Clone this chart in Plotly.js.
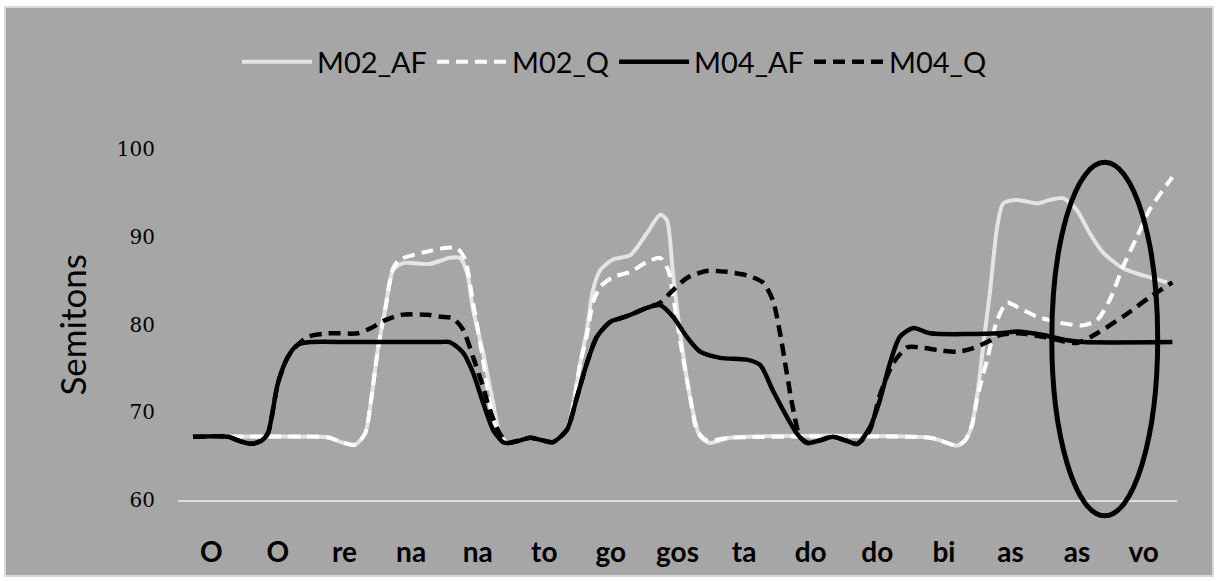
<!DOCTYPE html>
<html>
<head>
<meta charset="utf-8">
<script src="https://cdn.plot.ly/plotly-3.0.1.min.js"></script>
<style>
  html, body { margin: 0; padding: 0; background: #ffffff; }
  #frame { position: absolute; left: 4px; top: 6px; width: 1210px; height: 571px;
           border: 2px solid #d9d9d9; box-sizing: border-box; background: #a6a6a6; }
  #chart { width: 1206px; height: 567px; }
</style>
</head>
<body>
<div id="frame"><div id="chart"></div></div>
<script>
// Syllable categories along the x axis (one per position 0..14)
const categories = ['O','O','re','na','na','to','go','gos','ta','do','do','bi','as','as','vo'];
const yTicks = [60, 70, 80, 90, 100];

// Series names
const seriesNames = ['M02_AF', 'M02_Q', 'M04_AF', 'M04_Q'];

// M02_AF (x in category positions, y in semitones)
const m02afX = [-0.275, 1.63, 1.78, 1.95, 2.16, 2.31, 2.40, 2.50, 2.61, 2.73, 2.88, 3.28, 3.58, 3.73, 3.84, 3.93, 4.08, 4.23, 4.33, 4.45, 4.64, 4.79, 4.97, 5.13, 5.34, 5.54, 5.64, 5.73, 5.84, 6.03, 6.29, 6.54, 6.74, 6.84, 6.93, 7.04, 7.19, 7.34, 7.49, 7.79, 10.79, 10.94, 11.20, 11.32, 11.42, 11.51, 11.60, 11.69, 11.80, 11.89, 12.10, 12.40, 12.59, 12.79, 13.00, 13.19, 13.39, 13.69, 13.99, 14.35];
const m02afY = [67.2, 67.2, 67.1, 66.6, 66.3, 67.6, 71.4, 77.1, 81.7, 86.2, 87.0, 86.9, 87.6, 87.6, 85.9, 81.7, 76.8, 71.1, 67.6, 66.5, 66.8, 67.1, 66.8, 66.6, 68.0, 75.6, 79.4, 83.9, 86.2, 87.4, 87.9, 90.4, 92.5, 91.9, 85.9, 79.0, 71.7, 67.2, 66.5, 67.1, 67.1, 66.8, 66.2, 66.8, 68.5, 72.5, 78.2, 83.6, 91.1, 93.8, 94.2, 93.8, 94.2, 94.4, 93.0, 90.4, 88.2, 86.4, 85.6, 84.8];

// M02_Q
const m02qX = [-0.275, 1.63, 1.78, 1.95, 2.16, 2.31, 2.40, 2.50, 2.61, 2.73, 2.83, 3.18, 3.48, 3.69, 3.81, 3.93, 4.08, 4.23, 4.33, 4.45, 4.64, 4.79, 4.97, 5.13, 5.34, 5.54, 5.64, 5.73, 5.84, 6.03, 6.29, 6.54, 6.74, 6.86, 6.96, 7.08, 7.19, 7.29, 7.44, 7.79, 10.79, 10.94, 11.20, 11.32, 11.42, 11.51, 11.65, 11.80, 11.95, 12.10, 12.40, 12.74, 13.09, 13.30, 13.49, 13.69, 13.90, 14.09, 14.43];
const m02qY = [67.2, 67.2, 67.1, 66.6, 66.3, 67.6, 71.4, 77.1, 81.7, 86.4, 87.4, 88.2, 88.7, 88.7, 87.4, 82.5, 76.0, 69.1, 67.2, 66.5, 66.8, 67.1, 66.8, 66.6, 68.0, 75.6, 78.8, 82.5, 84.3, 85.4, 86.0, 87.1, 87.6, 86.2, 82.0, 76.3, 71.7, 68.0, 66.8, 67.1, 67.1, 66.8, 66.2, 66.8, 68.5, 72.0, 76.0, 80.5, 82.5, 82.0, 80.9, 80.2, 79.9, 80.5, 82.8, 86.6, 90.0, 93.1, 96.8];

// M04_AF
const m04afX = [-0.275, 0.25, 0.43, 0.60, 0.76, 0.85, 1.00, 1.15, 1.30, 1.50, 2.08, 2.83, 3.43, 3.58, 3.78, 3.93, 4.08, 4.23, 4.38, 4.45, 4.64, 4.79, 4.97, 5.13, 5.34, 5.49, 5.64, 5.79, 5.99, 6.14, 6.29, 6.54, 6.74, 6.93, 7.14, 7.34, 7.64, 8.04, 8.24, 8.43, 8.64, 8.79, 8.94, 9.14, 9.33, 9.52, 9.70, 9.89, 10.04, 10.19, 10.34, 10.54, 10.79, 11.84, 12.10, 12.49, 12.85, 13.09, 14.43];
const m04afY = [67.2, 67.2, 66.7, 66.4, 66.8, 67.6, 73.3, 76.3, 77.7, 78.0, 78.0, 78.0, 78.0, 78.0, 76.8, 74.5, 71.1, 68.0, 66.6, 66.5, 66.8, 67.1, 66.8, 66.6, 68.0, 71.7, 75.6, 78.6, 80.3, 80.7, 81.1, 81.9, 82.2, 80.9, 78.6, 76.9, 76.2, 76.0, 75.4, 72.5, 69.5, 67.6, 66.5, 66.8, 67.2, 66.8, 66.4, 68.3, 71.4, 75.6, 78.6, 79.6, 79.0, 79.0, 79.2, 78.8, 78.2, 78.0, 78.0];

// M04_Q
const m04qX = [-0.275, 0.25, 0.43, 0.60, 0.76, 0.85, 1.00, 1.15, 1.30, 1.45, 1.75, 2.20, 2.40, 2.61, 2.85, 3.25, 3.43, 3.63, 3.78, 3.93, 4.08, 4.18, 4.33, 4.45, 4.64, 4.79, 4.97, 5.13, 5.34, 5.49, 5.64, 5.79, 5.99, 6.14, 6.29, 6.54, 6.74, 6.93, 7.14, 7.44, 7.74, 8.04, 8.28, 8.43, 8.54, 8.64, 8.73, 8.84, 8.96, 9.14, 9.33, 9.52, 9.70, 9.89, 10.04, 10.24, 10.45, 10.64, 10.90, 11.20, 11.44, 11.65, 11.84, 12.10, 12.49, 13.00, 13.30, 13.69, 14.09, 14.43];
const m04qY = [67.2, 67.2, 66.7, 66.4, 66.8, 67.6, 73.3, 76.3, 77.7, 78.6, 79.0, 79.0, 79.6, 80.5, 81.1, 81.1, 80.9, 80.7, 79.4, 76.3, 72.9, 70.3, 67.6, 66.5, 66.8, 67.1, 66.8, 66.6, 68.0, 71.7, 75.6, 78.6, 80.3, 80.7, 81.1, 81.9, 82.5, 83.9, 85.3, 86.1, 86.0, 85.6, 84.8, 82.8, 79.0, 74.5, 70.6, 67.2, 66.5, 66.8, 67.2, 66.8, 66.4, 68.0, 72.0, 75.6, 77.4, 77.4, 77.1, 76.9, 77.3, 78.0, 78.8, 79.0, 78.6, 77.9, 79.0, 80.9, 83.1, 84.8];

// Highlight ellipse around the final "as" region (x in category positions)
const ellipseX = [12.62, 14.21];

const lineShape = {shape: 'spline', smoothing: 0.7};
const traces = [
  {x: m02afX, y: m02afY, name: seriesNames[0], mode: 'lines',
   line: Object.assign({color: '#e4e4e4', width: 4}, lineShape)},
  {x: m02qX, y: m02qY, name: seriesNames[1], mode: 'lines',
   line: Object.assign({color: '#ffffff', width: 4, dash: '12px,7px'}, lineShape)},
  {x: m04afX, y: m04afY, name: seriesNames[2], mode: 'lines',
   line: Object.assign({color: '#000000', width: 4.5}, lineShape)},
  {x: m04qX, y: m04qY, name: seriesNames[3], mode: 'lines',
   line: Object.assign({color: '#000000', width: 4.5, dash: '12px,7px'}, lineShape)}
];

const layout = {
  width: 1206, height: 567,
  margin: {l: 172, r: 35, t: 141, b: 75},
  paper_bgcolor: '#a6a6a6', plot_bgcolor: '#a6a6a6',
  showlegend: true,
  legend: {orientation: 'h', x: 0.437, xanchor: 'center', y: 1.248, yanchor: 'middle',
           bgcolor: 'rgba(0,0,0,0)', itemwidth: 70,
           font: {family: 'Lato, sans-serif', size: 29, color: '#000'}},
  xaxis: {range: [-0.5, 14.5], tickmode: 'array',
          tickvals: categories.map((c, i) => i), ticktext: categories,
          showgrid: false, zeroline: false, showline: true, linecolor: '#dedede', linewidth: 1.5,
          ticks: '', ticklabelstandoff: 27,
          tickfont: {family: 'Lato, sans-serif', size: 28, weight: 'bold', color: '#000'}},
  yaxis: {range: [60, 100], tickvals: yTicks, showgrid: false, zeroline: false, showline: false,
          ticks: '', ticklabelstandoff: 22,
          tickfont: {family: '"DejaVu Serif", serif', size: 20, color: '#000'}},
  annotations: [{text: 'Semitons', xref: 'paper', yref: 'paper', x: -0.107, y: 0.5,
                 xanchor: 'center', yanchor: 'middle', textangle: -90, showarrow: false,
                 font: {family: 'Lato, sans-serif', size: 35, color: '#000'}}],
  shapes: [{type: 'circle', xref: 'x', yref: 'paper', x0: ellipseX[0], x1: ellipseX[1],
            y0: -0.045, y1: 0.962, line: {color: '#000', width: 5}, layer: 'above'}]
};

Plotly.newPlot('chart', traces, layout, {displayModeBar: false, staticPlot: true});
</script>
</body>
</html>
